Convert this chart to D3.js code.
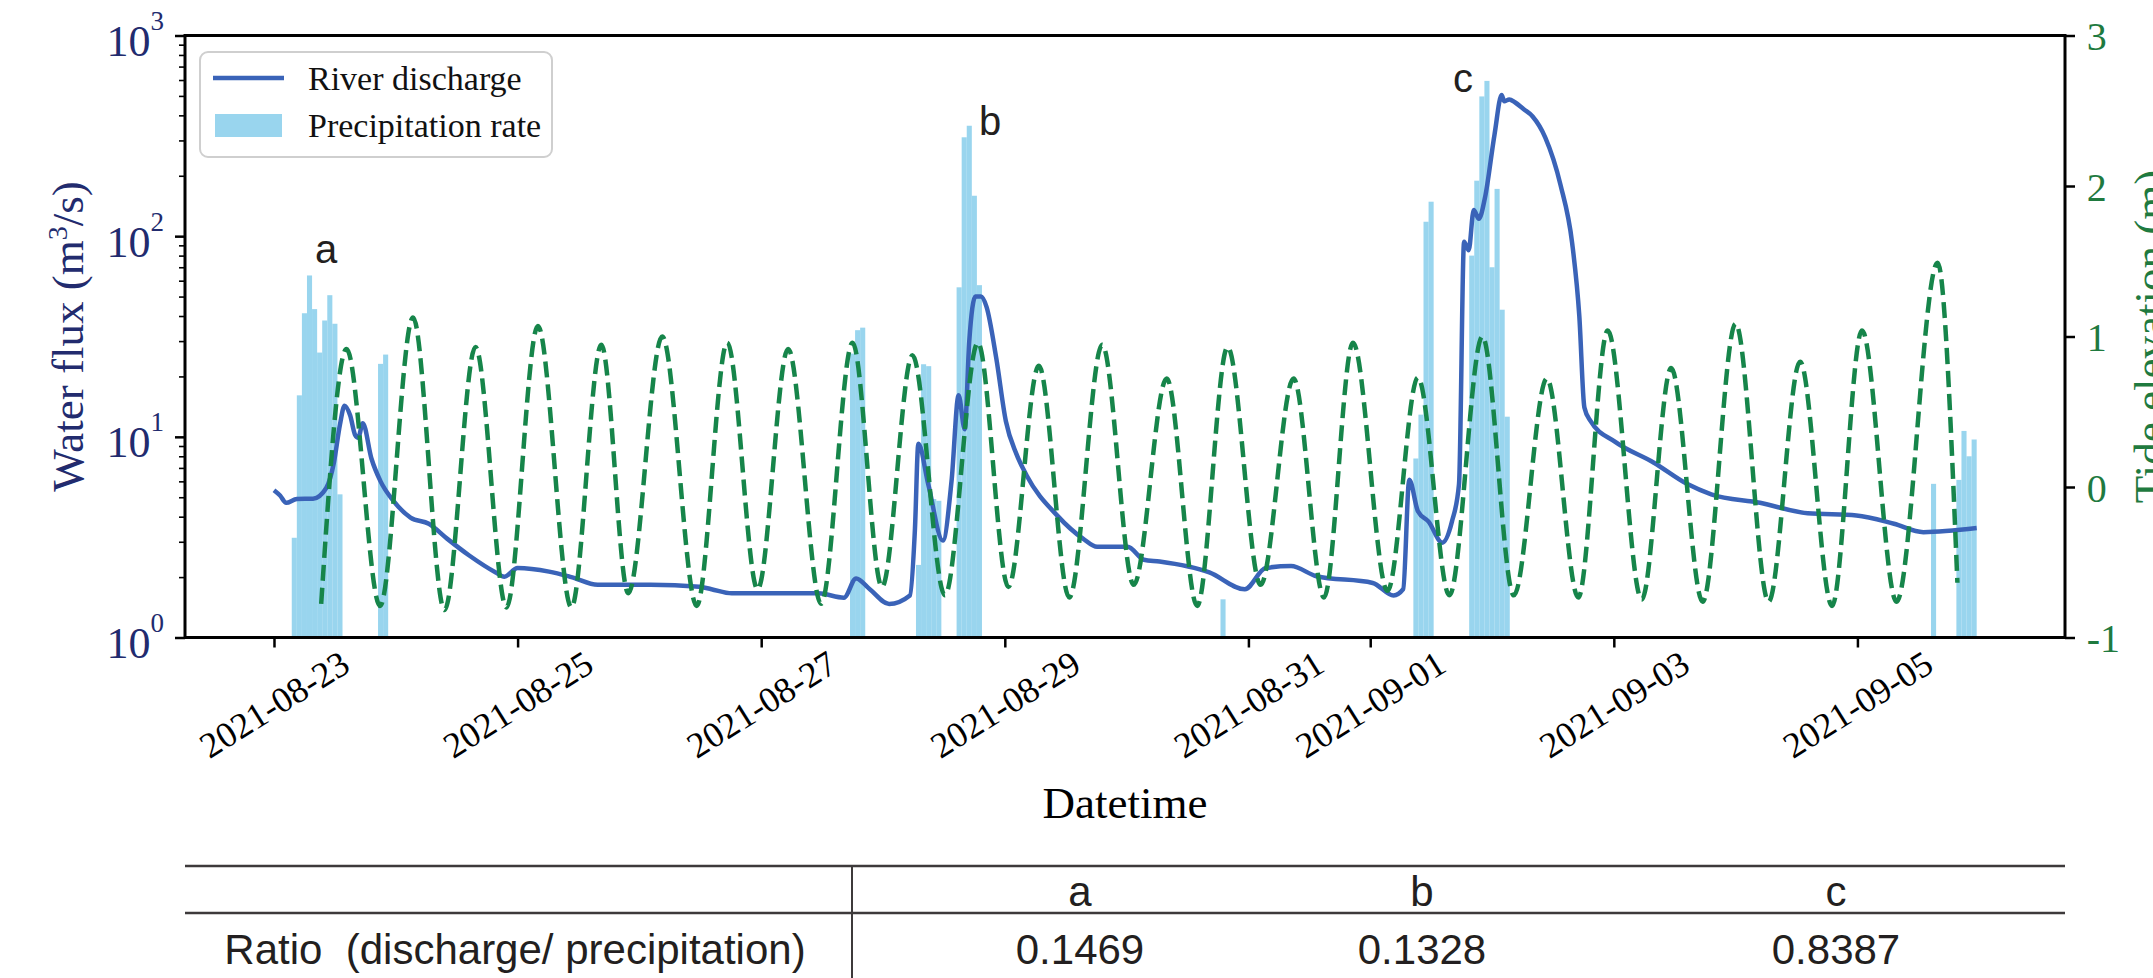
<!DOCTYPE html>
<html>
<head>
<meta charset="utf-8">
<script src="https://cdn.jsdelivr.net/npm/d3@7"></script>
<style>
    body { margin: 0; background: #fff; }
    svg { display: block; background: #fff; }
    .serif { font-family: "Liberation Serif", "Times New Roman", serif; }
    .sans { font-family: "Liberation Sans", Arial, sans-serif; }
</style>
</head>
<body>
<svg id="chart" width="2153" height="978"></svg>
<script>
// hours since 2021-08-23 00:00 -> river discharge (m3/s)
const discharge = [
    [0, 5.42], [1.2, 5.1], [2.4, 4.69], [4.5, 4.9], [7.7, 4.92], [10.3, 5.56], [11.8, 7.43],
    [13.0, 11.5], [13.9, 14.3], [15.0, 12.8], [16.0, 10.2], [16.6, 9.9], [17.5, 11.7], [19.2, 7.8],
    [21.0, 6.0], [23.5, 4.81], [26.9, 3.96], [30.5, 3.69], [34.1, 3.11], [38.4, 2.57], [43.7, 2.11],
    [45.4, 2.01], [48.0, 2.22], [54.2, 2.13], [58.6, 2.0], [63.8, 1.83], [74.2, 1.83], [83.8, 1.79],
    [86.2, 1.74], [90.2, 1.66], [107.3, 1.66], [112.3, 1.58], [114.7, 1.97], [117.4, 1.74],
    [121.2, 1.47], [125.3, 1.62], [126.3, 3.5], [126.96, 9.23], [128.9, 5.83], [131.8, 3.04],
    [133.5, 6.0], [134.9, 16.1], [136.1, 10.9], [137.0, 30], [138.2, 50], [139.3, 50], [140.4, 44.4],
    [142.3, 24.8], [144.2, 12.0], [146.3, 8.2], [148.3, 6.42], [154.3, 4.06], [159.4, 3.11],
    [162.2, 2.83], [168.2, 2.83], [171.4, 2.44], [174.5, 2.39], [184.3, 2.11], [191.3, 1.74],
    [195.4, 2.22], [200.4, 2.27], [205.4, 2.02], [216.5, 1.87], [220.6, 1.62], [222.5, 1.74],
    [223.7, 6.12], [225.4, 4.26], [227.5, 3.78], [230.2, 2.97], [232.1, 3.78], [233.5, 5.83],
    [234.5, 93.8], [235.4, 85], [236.4, 135], [237.4, 122], [238.6, 155], [240.5, 322], [241.9, 505],
    [242.4, 470], [243.4, 480], [244.5, 465], [246.2, 430], [248.0, 395], [250.5, 310], [253.5, 180],
    [255.8, 92], [257.2, 40], [258.2, 14], [259.4, 12.0], [264.2, 9.46], [271.9, 7.43], [278.4, 5.83],
    [283.2, 5.17], [292.8, 4.69], [302.2, 4.16], [311.8, 4.06], [319.2, 3.69], [325.0, 3.35],
    [335.5, 3.51]
];

// hourly bars: [hour (bar centre), precipitation rate]
const precipitation = [
    [4, 3.14], [5, 16.1], [6, 41.3], [7, 63.7], [8, 43.3], [9, 26.3], [10, 38.0], [11, 50.8],
    [12, 36.6], [13, 5.17], [21, 23.1], [22, 25.7],
    [114, 26], [115, 34], [116, 35],
    [127, 2.3], [128, 23], [129, 22.5], [130, 4.9], [131, 4.8],
    [135, 55.6], [136, 311], [137, 355], [138, 159], [139, 57],
    [187, 1.55],
    [225, 7.8], [226, 12.9], [227, 118], [228, 148.5],
    [236, 80], [237, 189], [238, 497], [239, 594], [240, 70], [241, 172], [242, 43], [243, 12.6],
    [327, 5.83],
    [332, 6.1], [333, 10.7], [334, 8.0], [335, 9.7]
];

// tide elevation turning points: [hour, m]
const tide = [
    [9.3, -0.776], [14.3, 0.917], [20.9, -0.79], [27.4, 1.127], [33.6, -0.818], [39.7, 0.93],
    [45.8, -0.80], [52.0, 1.07], [58.6, -0.80], [64.5, 0.945], [69.8, -0.706], [76.5, 1.0],
    [83.3, -0.79], [89.3, 0.959], [95.3, -0.68], [101.3, 0.917], [107.8, -0.776], [114.0, 0.959],
    [119.8, -0.664], [125.8, 0.875], [132.2, -0.72], [138.7, 0.959], [144.7, -0.664], [150.7, 0.805],
    [156.7, -0.734], [163.2, 0.945], [169.4, -0.65], [175.9, 0.721], [181.9, -0.79], [187.9, 0.93],
    [194.4, -0.65], [200.9, 0.721], [206.9, -0.734], [212.6, 0.959], [219.4, -0.69], [225.4, 0.728],
    [231.6, -0.72], [238.1, 1.0], [244.3, -0.72], [250.8, 0.721], [257.0, -0.734], [262.8, 1.04],
    [269.5, -0.748], [275.3, 0.79], [281.5, -0.762], [288.0, 1.085], [294.5, -0.762], [300.7, 0.833],
    [307.0, -0.79], [312.9, 1.04], [319.7, -0.762], [327.8, 1.49], [331.7, -0.636]
];

const dateTicks = ["2021-08-23", "2021-08-25", "2021-08-27", "2021-08-29",
                   "2021-08-31", "2021-09-01", "2021-09-03", "2021-09-05"];
const fluxTicks = [1, 10, 100, 1000];
const tideTicks = [-1, 0, 1, 2, 3];

// event markers: [label, hour, discharge value]
const eventLabels = [["a", 8.1, 73.5], ["b", 138.9, 319], ["c", 232.3, 525]];

const tableHeaders = ["a", "b", "c"];
const tableRatios = ["0.1469", "0.1328", "0.8387"];
const rowLabel = "Ratio  (discharge/ precipitation)";

const legendItems = ["River discharge", "Precipitation rate"];

// ── Setup ──
const M = { left: 185, right: 2065, top: 35.5, bottom: 637.5 };
const colors = {
    discharge: "#3a63b8",
    precip: "#87ceeb",
    tide: "#16854a",
    navy: "#222b6e",
    green: "#1f7a3f",
    ink: "#231f20"
};

const svg = d3.select("#chart");
const t0 = new Date(2021, 7, 23);
const at = h => new Date(t0.getTime() + h * 3600e3);
const parseDay = d3.timeParse("%Y-%m-%d");

const x = d3.scaleTime()
    .domain([new Date(2021, 7, 22, 6, 28), new Date(2021, 8, 6, 16, 54)])
    .range([M.left, M.right]);
const yLeft = d3.scaleLog().domain([1, 1000]).range([M.bottom, M.top]);
const yRight = d3.scaleLinear().domain([-1, 3]).range([M.bottom, M.top]);

// ── Precipitation bars ──
svg.append("g")
    .selectAll("rect")
    .data(precipitation)
    .join("rect")
    .attr("x", d => x(at(d[0] - 0.5)))
    .attr("width", d => x(at(d[0] + 0.5)) - x(at(d[0] - 0.5)))
    .attr("y", d => yLeft(d[1]))
    .attr("height", d => yLeft(1) - yLeft(d[1]))
    .attr("fill", colors.precip)
    .attr("fill-opacity", 0.85);

// ── River discharge ──
const dischargeLine = d3.line()
    .x(d => x(at(d[0])))
    .y(d => yLeft(d[1]))
    .curve(d3.curveMonotoneX);

svg.append("path")
    .datum(discharge)
    .attr("d", dischargeLine)
    .attr("fill", "none")
    .attr("stroke", colors.discharge)
    .attr("stroke-width", 4.5)
    .attr("stroke-linejoin", "round");

// ── Tide (twin axis) ──
const tideLine = d3.line()
    .x(d => x(at(d[0])))
    .y(d => yRight(d[1]))
    .curve(d3.curveMonotoneX);

svg.append("path")
    .datum(tide)
    .attr("d", tideLine)
    .attr("fill", "none")
    .attr("stroke", colors.tide)
    .attr("stroke-width", 4.5)
    .attr("stroke-dasharray", "16,7");

// ── Event labels ──
svg.append("g")
    .selectAll("text")
    .data(eventLabels)
    .join("text")
    .attr("class", "sans")
    .attr("x", d => x(at(d[1])))
    .attr("y", d => yLeft(d[2]))
    .attr("font-size", 40)
    .attr("fill", colors.ink)
    .text(d => d[0]);

// ── Axes ──
const xAxis = svg.append("g")
    .attr("transform", `translate(0,${M.bottom})`)
    .call(d3.axisBottom(x)
        .tickValues(dateTicks.map(parseDay))
        .tickFormat(d3.timeFormat("%Y-%m-%d"))
        .tickSize(10)
        .tickSizeOuter(0));
xAxis.select(".domain").remove();
xAxis.selectAll(".tick line").attr("stroke", "#000").attr("stroke-width", 2.5);
xAxis.selectAll(".tick text")
    .attr("class", "serif")
    .attr("y", null)
    .attr("dy", null)
    .attr("font-size", 36)
    .attr("fill", "#000")
    .attr("text-anchor", "middle")
    .attr("dominant-baseline", "central")
    .attr("transform", "translate(0,67) rotate(-32)");

const yAxis = svg.append("g")
    .attr("transform", `translate(${M.left},0)`)
    .call(d3.axisLeft(yLeft).tickValues(fluxTicks).tickSize(10).tickSizeOuter(0).tickFormat(""));
yAxis.select(".domain").remove();
yAxis.selectAll(".tick line").attr("stroke", "#000").attr("stroke-width", 2.5);
yAxis.selectAll(".tick text").each(function(d) {
    const t = d3.select(this)
        .attr("class", "serif")
        .attr("x", -21)
        .attr("y", 20)
        .attr("dy", null)
        .attr("font-size", 44)
        .attr("fill", colors.navy)
        .attr("text-anchor", "end")
        .text(null);
    t.append("tspan").text("10");
    t.append("tspan").attr("dy", -26).attr("font-size", 27).text(Math.round(Math.log10(d)));
});

// minor log ticks
const minorAxis = svg.append("g")
    .attr("transform", `translate(${M.left},0)`)
    .call(d3.axisLeft(yLeft)
        .tickValues(yLeft.ticks().filter(v => !fluxTicks.includes(v)))
        .tickSize(6)
        .tickSizeOuter(0)
        .tickFormat(""));
minorAxis.select(".domain").remove();
minorAxis.selectAll(".tick line").attr("stroke", "#000").attr("stroke-width", 1.6);

const yAxisRight = svg.append("g")
    .attr("transform", `translate(${M.right},0)`)
    .call(d3.axisRight(yRight).tickValues(tideTicks).tickSize(10).tickSizeOuter(0).tickFormat(d3.format("d")));
yAxisRight.select(".domain").remove();
yAxisRight.selectAll(".tick line").attr("stroke", "#000").attr("stroke-width", 2.5);
yAxisRight.selectAll(".tick text")
    .attr("class", "serif")
    .attr("x", 21.7)
    .attr("y", 14)
    .attr("dy", null)
    .attr("font-size", 40)
    .attr("fill", colors.green)
    .text(d => d < 0 ? "-" + Math.abs(d) : d);

// ── Frame ──
svg.append("rect")
    .attr("x", M.left)
    .attr("y", M.top)
    .attr("width", M.right - M.left)
    .attr("height", M.bottom - M.top)
    .attr("fill", "none")
    .attr("stroke", "#000")
    .attr("stroke-width", 3);

// ── Axis titles ──
svg.append("text")
    .attr("class", "serif")
    .attr("x", (M.left + M.right) / 2)
    .attr("y", 818)
    .attr("font-size", 45)
    .attr("text-anchor", "middle")
    .attr("fill", "#000")
    .text("Datetime");

const leftTitle = svg.append("text")
    .attr("class", "serif")
    .attr("transform", `translate(83,${(M.top + M.bottom) / 2}) rotate(-90)`)
    .attr("font-size", 45)
    .attr("text-anchor", "middle")
    .attr("fill", colors.navy);
leftTitle.append("tspan").text("Water flux (m");
leftTitle.append("tspan").attr("dy", -16).attr("font-size", 28).text("3");
leftTitle.append("tspan").attr("dy", 16).text("/s)");

svg.append("text")
    .attr("class", "serif")
    .attr("transform", `translate(2165,${(M.top + M.bottom) / 2}) rotate(-90)`)
    .attr("font-size", 45)
    .attr("text-anchor", "middle")
    .attr("fill", colors.green)
    .text("Tide elevation (m)");

// ── Legend ──
const legend = svg.append("g").attr("class", "serif");
legend.append("rect")
    .attr("x", 200).attr("y", 52)
    .attr("width", 352).attr("height", 105)
    .attr("rx", 8)
    .attr("fill", "#fff")
    .attr("fill-opacity", 0.85)
    .attr("stroke", "#cfcfcf")
    .attr("stroke-width", 2);
legend.append("line")
    .attr("x1", 213).attr("x2", 284)
    .attr("y1", 78).attr("y2", 78)
    .attr("stroke", colors.discharge)
    .attr("stroke-width", 4.5);
legend.append("rect")
    .attr("x", 215).attr("y", 114)
    .attr("width", 67).attr("height", 23)
    .attr("fill", colors.precip)
    .attr("fill-opacity", 0.85);
legend.selectAll("text.item")
    .data(legendItems)
    .join("text")
    .attr("class", "item")
    .attr("x", 308)
    .attr("y", (d, i) => 90 + i * 46.5)
    .attr("font-size", 34)
    .attr("fill", "#111")
    .text(d => d);

// ── Ratio table ──
const table = svg.append("g").attr("class", "sans");
const colX = d3.scaleOrdinal().domain(tableHeaders).range([1080, 1422, 1836]);

[866, 913].forEach(y => {
    table.append("line")
        .attr("x1", M.left).attr("x2", M.right)
        .attr("y1", y).attr("y2", y)
        .attr("stroke", "#3d3a3b")
        .attr("stroke-width", 2.5);
});
table.append("line")
    .attr("x1", 852).attr("x2", 852)
    .attr("y1", 866).attr("y2", 978)
    .attr("stroke", "#3d3a3b")
    .attr("stroke-width", 2);

table.selectAll("text.head")
    .data(tableHeaders)
    .join("text")
    .attr("class", "head")
    .attr("x", d => colX(d))
    .attr("y", 906)
    .attr("font-size", 42)
    .attr("text-anchor", "middle")
    .attr("fill", colors.ink)
    .text(d => d);

table.selectAll("text.val")
    .data(tableRatios)
    .join("text")
    .attr("class", "val")
    .attr("x", (d, i) => colX(tableHeaders[i]))
    .attr("y", 964)
    .attr("font-size", 42)
    .attr("text-anchor", "middle")
    .attr("fill", colors.ink)
    .text(d => d);

table.append("text")
    .attr("x", 515)
    .attr("y", 964)
    .attr("font-size", 42)
    .attr("text-anchor", "middle")
    .attr("fill", colors.ink)
    .style("white-space", "pre")
    .text(rowLabel);
</script>
</body>
</html>
